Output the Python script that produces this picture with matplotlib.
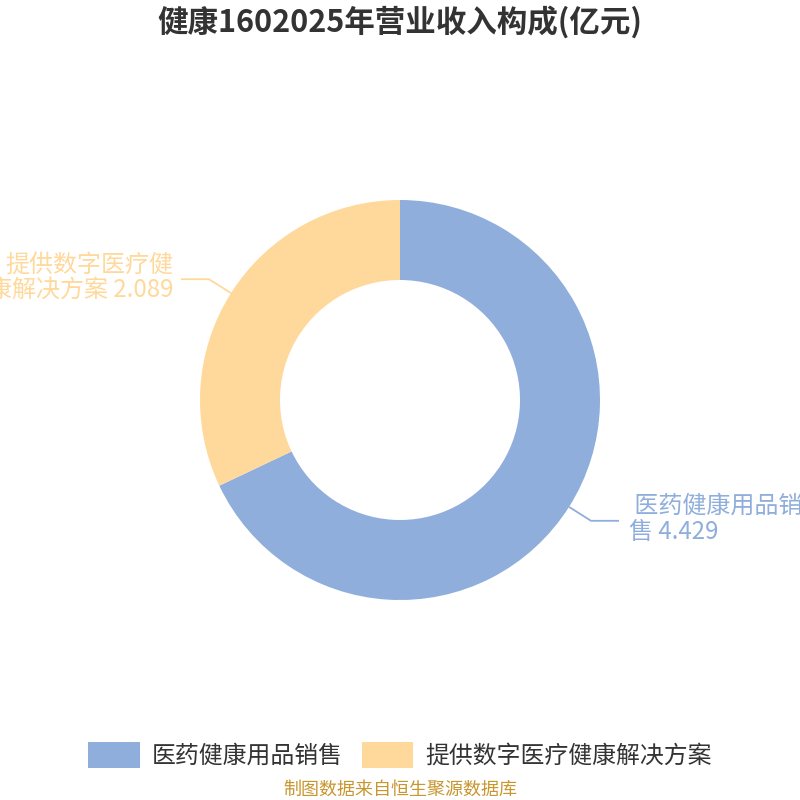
import numpy as np
import matplotlib
matplotlib.use("Agg")
import matplotlib.pyplot as plt
from matplotlib.patches import Patch

plt.rcParams['font.family'] = ['Noto Sans CJK SC', 'DejaVu Sans']

title = "健康1602025年营业收入构成(亿元)"
categories = ["医药健康用品销售", "提供数字医疗健康解决方案"]
values = [4.429, 2.089]
label_lines = [[" 医药健康用品销", "售 4.429"], ["提供数字医疗健", "康解决方案 2.089"]]
colors = ["#8FAEDB", "#FFD99B"]
source = "制图数据来自恒生聚源数据库"

W = 800
fig = plt.figure(figsize=(8, 8), dpi=100)
ax = fig.add_axes([0, 0, 1, 1])

cx, cy, R = 400, 400, 200
wedges, _ = ax.pie(values, colors=colors, startangle=90, counterclock=False,
                   radius=R, center=(cx, cy), wedgeprops=dict(width=80, linewidth=0),
                   frame=True)
ax.set_xlim(0, W)
ax.set_ylim(0, W)
ax.set_aspect('equal')
ax.axis('off')

total = sum(values)
start = 90.0
for i, v in enumerate(values):
    span = 360.0 * v / total
    mid = np.deg2rad(start - span / 2)
    start -= span
    x0, y0 = cx + R * np.cos(mid), cy + R * np.sin(mid)
    x1, y1 = cx + (R + 26) * np.cos(mid), cy + (R + 26) * np.sin(mid)
    side = 1 if np.cos(mid) >= 0 else -1
    x2 = x1 + side * 28
    ax.plot([x0, x1, x2], [y0, y1, y1], color=colors[i], lw=1.3, solid_capstyle='butt')
    txt = "\n".join(label_lines[i])
    if side > 0:
        ax.text(x2 + 10, y1 + 2, txt, ha='left', va='center', fontsize=17.3,
                color=colors[i], linespacing=1.0, multialignment='left')
    else:
        ax.text(x2 - 8, y1 + 2, txt, ha='right', va='center', fontsize=17.3,
                color=colors[i], linespacing=1.0, multialignment='right')

fig.text(0.5, 0.972, title, ha='center', va='center', fontsize=22,
         fontweight='bold', color='#333333')

handles = [Patch(facecolor=c, edgecolor='none') for c in colors]
fig.legend(handles, categories, loc='center', bbox_to_anchor=(0.5, 0.056), ncol=2,
           frameon=False, fontsize=17.2, handlelength=2.15, handleheight=1.25,
           handletextpad=0.5, columnspacing=0.8, labelcolor='#333333')

fig.text(0.5, 0.013, source, ha='center', va='center', fontsize=13, color='#C8962F')

fig.savefig("out.png", dpi=100)
